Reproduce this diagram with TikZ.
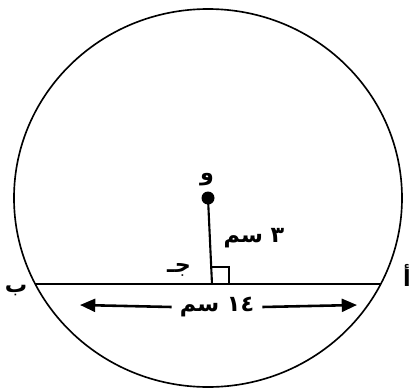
\documentclass[tikz,border=0pt]{standalone}
\usepackage{fontspec}
\newfontfamily\arabicfont[Script=Arabic]{DejaVu Sans}
\TeXXeTstate=1
\usetikzlibrary{arrows.meta}
\begin{document}
\begin{tikzpicture}[x=0.03cm,y=-0.03cm,
  lbl/.style={font=\arabicfont\bfseries\fontsize{19}{22}\selectfont, inner sep=0pt},
  geo/.style={line width=1.8pt},
  dimarrow/.style={line width=2.2pt, -{Triangle[length=13pt,width=11pt]}}]
\useasboundingbox (0,0) rectangle (414,390);
\coordinate (O) at (208,198);
\coordinate (A) at (381,284);
\coordinate (B) at (35,284);
\coordinate (C) at (212,284);
\draw[line width=1.4pt] (O) ellipse [x radius=194, y radius=189];
\draw[geo] (B) -- (A);
\draw[geo] (O) -- (C);
\fill (O) circle (6.5);
\draw[line width=1.3pt] ([shift={(0,-17)}]C) -| ([shift={(17,0)}]C);
\node[lbl] (lO) at (207,180) {\beginR و\endR};
\node[lbl] (lC) at (179,270) {\beginR جـ\endR};
\node[lbl] (lA) at (407,275) {\beginR أ\endR};
\node[lbl] (lB) at (16,291) {\beginR ب\endR};
\node[lbl] (l3) at (254,238) {\beginR ٣ سم\endR};
\node[lbl] (l14) at (217,307) {\beginR ١٤ سم\endR};
\coordinate (arL) at (80,305);
\coordinate (arR) at (357,305);
\draw[dimarrow] (l14.west) ++(-8,0) -- (arL);
\draw[dimarrow] (l14.east) ++(8,0) -- (arR);
\end{tikzpicture}
\end{document}
